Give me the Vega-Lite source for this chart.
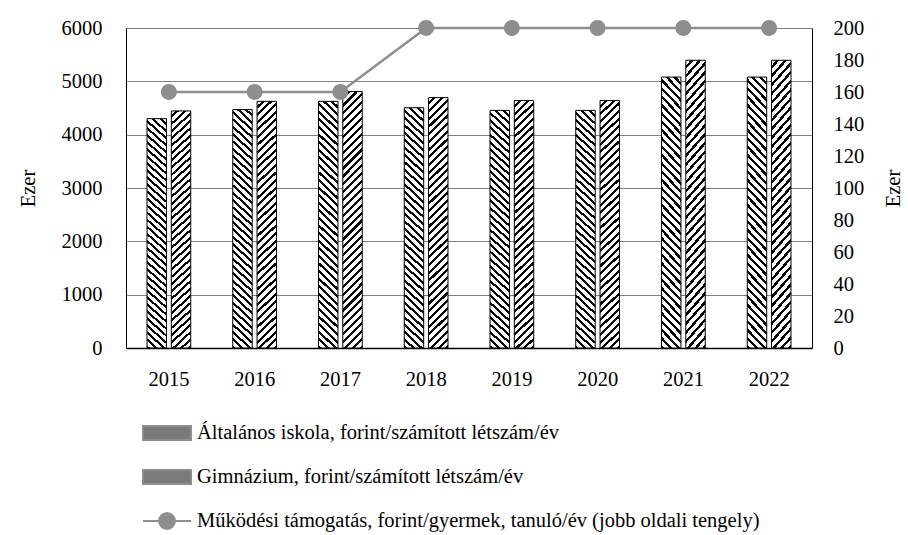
{
  "$schema": "https://vega.github.io/schema/vega-lite/v6.json",
  "width": 686,
  "height": 320,
  "autosize": {"type": "none"},
  "padding": {"left": 126, "top": 28, "right": 96, "bottom": 187},
  "background": "#ffffff",
  "data": {
    "values": [
      {"year": "2015", "series": "Általános iskola, forint/számított létszám/év", "value": 4300},
      {"year": "2016", "series": "Általános iskola, forint/számított létszám/év", "value": 4470},
      {"year": "2017", "series": "Általános iskola, forint/számított létszám/év", "value": 4625},
      {"year": "2018", "series": "Általános iskola, forint/számított létszám/év", "value": 4505},
      {"year": "2019", "series": "Általános iskola, forint/számított létszám/év", "value": 4455},
      {"year": "2020", "series": "Általános iskola, forint/számított létszám/év", "value": 4455},
      {"year": "2021", "series": "Általános iskola, forint/számított létszám/év", "value": 5080},
      {"year": "2022", "series": "Általános iskola, forint/számított létszám/év", "value": 5080},
      {"year": "2015", "series": "Gimnázium, forint/számított létszám/év", "value": 4445},
      {"year": "2016", "series": "Gimnázium, forint/számított létszám/év", "value": 4625},
      {"year": "2017", "series": "Gimnázium, forint/számított létszám/év", "value": 4810},
      {"year": "2018", "series": "Gimnázium, forint/számított létszám/év", "value": 4695},
      {"year": "2019", "series": "Gimnázium, forint/számított létszám/év", "value": 4640},
      {"year": "2020", "series": "Gimnázium, forint/számított létszám/év", "value": 4640},
      {"year": "2021", "series": "Gimnázium, forint/számított létszám/év", "value": 5395},
      {"year": "2022", "series": "Gimnázium, forint/számított létszám/év", "value": 5395},
      {"year": "2015", "series": "Működési támogatás, forint/gyermek, tanuló/év (jobb oldali tengely)", "value": 160},
      {"year": "2016", "series": "Működési támogatás, forint/gyermek, tanuló/év (jobb oldali tengely)", "value": 160},
      {"year": "2017", "series": "Működési támogatás, forint/gyermek, tanuló/év (jobb oldali tengely)", "value": 160},
      {"year": "2018", "series": "Működési támogatás, forint/gyermek, tanuló/év (jobb oldali tengely)", "value": 200},
      {"year": "2019", "series": "Működési támogatás, forint/gyermek, tanuló/év (jobb oldali tengely)", "value": 200},
      {"year": "2020", "series": "Működési támogatás, forint/gyermek, tanuló/év (jobb oldali tengely)", "value": 200},
      {"year": "2021", "series": "Működési támogatás, forint/gyermek, tanuló/év (jobb oldali tengely)", "value": 200},
      {"year": "2022", "series": "Működési támogatás, forint/gyermek, tanuló/év (jobb oldali tengely)", "value": 200}
    ]
  },
  "layer": [
    {
      "transform": [{"filter": {"field": "series", "oneOf": ["Általános iskola, forint/számított létszám/év", "Gimnázium, forint/számított létszám/év"]}}],
      "mark": {"type": "bar", "stroke": "#000", "strokeWidth": 1},
      "encoding": {
        "x": {
          "field": "year", "type": "ordinal",
          "scale": {"paddingInner": 0.49, "paddingOuter": 0.245},
          "axis": {"title": null, "labelAngle": 0, "labelPadding": 21, "ticks": false, "domainWidth": 1.5, "domainColor": "#000", "grid": false, "labelFont": "Liberation Serif", "labelFontSize": 20.5, "labelColor": "#000"}
        },
        "xOffset": {
          "field": "series",
          "scale": {"domain": ["Általános iskola, forint/számított létszám/év", "Gimnázium, forint/számított létszám/év"], "paddingInner": 0.2, "paddingOuter": 0}
        },
        "y": {
          "field": "value", "type": "quantitative",
          "scale": {"domain": [0, 6000], "nice": false},
          "axis": {"title": "Ezer", "format": "d", "values": [0, 1000, 2000, 3000, 4000, 5000, 6000], "grid": true, "gridColor": "#808080", "gridWidth": 1, "ticks": false, "labelPadding": 24, "titlePadding": 23, "domainColor": "#000", "domainWidth": 1, "labelFont": "Liberation Serif", "labelFontSize": 20.5, "labelColor": "#000", "titleFont": "Liberation Serif", "titleFontSize": 20.5, "titleFontWeight": "normal", "titleColor": "#000"}
        },
        "fill": {
          "condition": {
            "test": {"field": "series", "equal": "Általános iskola, forint/számított létszám/év"},
            "value": {"gradient": "linear", "x1": 1, "y1": 0, "x2": 0.9187, "y2": 1.0698, "stops": [
{"offset":0,"color":"#fff"},{"offset":0.01714,"color":"#fff"},{"offset":0.01714,"color":"#000"},{"offset":0.02857,"color":"#000"},
{"offset":0.02857,"color":"#fff"},{"offset":0.04571,"color":"#fff"},{"offset":0.04571,"color":"#000"},{"offset":0.05714,"color":"#000"},
{"offset":0.05714,"color":"#fff"},{"offset":0.07429,"color":"#fff"},{"offset":0.07429,"color":"#000"},{"offset":0.08571,"color":"#000"},
{"offset":0.08571,"color":"#fff"},{"offset":0.10286,"color":"#fff"},{"offset":0.10286,"color":"#000"},{"offset":0.11429,"color":"#000"},
{"offset":0.11429,"color":"#fff"},{"offset":0.13143,"color":"#fff"},{"offset":0.13143,"color":"#000"},{"offset":0.14286,"color":"#000"},
{"offset":0.14286,"color":"#fff"},{"offset":0.16,"color":"#fff"},{"offset":0.16,"color":"#000"},{"offset":0.17143,"color":"#000"},
{"offset":0.17143,"color":"#fff"},{"offset":0.18857,"color":"#fff"},{"offset":0.18857,"color":"#000"},{"offset":0.2,"color":"#000"},
{"offset":0.2,"color":"#fff"},{"offset":0.21714,"color":"#fff"},{"offset":0.21714,"color":"#000"},{"offset":0.22857,"color":"#000"},
{"offset":0.22857,"color":"#fff"},{"offset":0.24571,"color":"#fff"},{"offset":0.24571,"color":"#000"},{"offset":0.25714,"color":"#000"},
{"offset":0.25714,"color":"#fff"},{"offset":0.27429,"color":"#fff"},{"offset":0.27429,"color":"#000"},{"offset":0.28571,"color":"#000"},
{"offset":0.28571,"color":"#fff"},{"offset":0.30286,"color":"#fff"},{"offset":0.30286,"color":"#000"},{"offset":0.31429,"color":"#000"},
{"offset":0.31429,"color":"#fff"},{"offset":0.33143,"color":"#fff"},{"offset":0.33143,"color":"#000"},{"offset":0.34286,"color":"#000"},
{"offset":0.34286,"color":"#fff"},{"offset":0.36,"color":"#fff"},{"offset":0.36,"color":"#000"},{"offset":0.37143,"color":"#000"},
{"offset":0.37143,"color":"#fff"},{"offset":0.38857,"color":"#fff"},{"offset":0.38857,"color":"#000"},{"offset":0.4,"color":"#000"},
{"offset":0.4,"color":"#fff"},{"offset":0.41714,"color":"#fff"},{"offset":0.41714,"color":"#000"},{"offset":0.42857,"color":"#000"},
{"offset":0.42857,"color":"#fff"},{"offset":0.44571,"color":"#fff"},{"offset":0.44571,"color":"#000"},{"offset":0.45714,"color":"#000"},
{"offset":0.45714,"color":"#fff"},{"offset":0.47429,"color":"#fff"},{"offset":0.47429,"color":"#000"},{"offset":0.48571,"color":"#000"},
{"offset":0.48571,"color":"#fff"},{"offset":0.50286,"color":"#fff"},{"offset":0.50286,"color":"#000"},{"offset":0.51429,"color":"#000"},
{"offset":0.51429,"color":"#fff"},{"offset":0.53143,"color":"#fff"},{"offset":0.53143,"color":"#000"},{"offset":0.54286,"color":"#000"},
{"offset":0.54286,"color":"#fff"},{"offset":0.56,"color":"#fff"},{"offset":0.56,"color":"#000"},{"offset":0.57143,"color":"#000"},
{"offset":0.57143,"color":"#fff"},{"offset":0.58857,"color":"#fff"},{"offset":0.58857,"color":"#000"},{"offset":0.6,"color":"#000"},
{"offset":0.6,"color":"#fff"},{"offset":0.61714,"color":"#fff"},{"offset":0.61714,"color":"#000"},{"offset":0.62857,"color":"#000"},
{"offset":0.62857,"color":"#fff"},{"offset":0.64571,"color":"#fff"},{"offset":0.64571,"color":"#000"},{"offset":0.65714,"color":"#000"},
{"offset":0.65714,"color":"#fff"},{"offset":0.67429,"color":"#fff"},{"offset":0.67429,"color":"#000"},{"offset":0.68571,"color":"#000"},
{"offset":0.68571,"color":"#fff"},{"offset":0.70286,"color":"#fff"},{"offset":0.70286,"color":"#000"},{"offset":0.71429,"color":"#000"},
{"offset":0.71429,"color":"#fff"},{"offset":0.73143,"color":"#fff"},{"offset":0.73143,"color":"#000"},{"offset":0.74286,"color":"#000"},
{"offset":0.74286,"color":"#fff"},{"offset":0.76,"color":"#fff"},{"offset":0.76,"color":"#000"},{"offset":0.77143,"color":"#000"},
{"offset":0.77143,"color":"#fff"},{"offset":0.78857,"color":"#fff"},{"offset":0.78857,"color":"#000"},{"offset":0.8,"color":"#000"},
{"offset":0.8,"color":"#fff"},{"offset":0.81714,"color":"#fff"},{"offset":0.81714,"color":"#000"},{"offset":0.82857,"color":"#000"},
{"offset":0.82857,"color":"#fff"},{"offset":0.84571,"color":"#fff"},{"offset":0.84571,"color":"#000"},{"offset":0.85714,"color":"#000"},
{"offset":0.85714,"color":"#fff"},{"offset":0.87429,"color":"#fff"},{"offset":0.87429,"color":"#000"},{"offset":0.88571,"color":"#000"},
{"offset":0.88571,"color":"#fff"},{"offset":0.90286,"color":"#fff"},{"offset":0.90286,"color":"#000"},{"offset":0.91429,"color":"#000"},
{"offset":0.91429,"color":"#fff"},{"offset":0.93143,"color":"#fff"},{"offset":0.93143,"color":"#000"},{"offset":0.94286,"color":"#000"},
{"offset":0.94286,"color":"#fff"},{"offset":0.96,"color":"#fff"},{"offset":0.96,"color":"#000"},{"offset":0.97143,"color":"#000"},
{"offset":0.97143,"color":"#fff"},{"offset":0.98857,"color":"#fff"},{"offset":0.98857,"color":"#000"},{"offset":1,"color":"#000"}
            ]}
          },
          "value": {"gradient": "linear", "x1": 0, "y1": 0, "x2": 0.0813, "y2": 1.0698, "stops": [
{"offset":0,"color":"#fff"},{"offset":0.01714,"color":"#fff"},{"offset":0.01714,"color":"#000"},{"offset":0.02857,"color":"#000"},
{"offset":0.02857,"color":"#fff"},{"offset":0.04571,"color":"#fff"},{"offset":0.04571,"color":"#000"},{"offset":0.05714,"color":"#000"},
{"offset":0.05714,"color":"#fff"},{"offset":0.07429,"color":"#fff"},{"offset":0.07429,"color":"#000"},{"offset":0.08571,"color":"#000"},
{"offset":0.08571,"color":"#fff"},{"offset":0.10286,"color":"#fff"},{"offset":0.10286,"color":"#000"},{"offset":0.11429,"color":"#000"},
{"offset":0.11429,"color":"#fff"},{"offset":0.13143,"color":"#fff"},{"offset":0.13143,"color":"#000"},{"offset":0.14286,"color":"#000"},
{"offset":0.14286,"color":"#fff"},{"offset":0.16,"color":"#fff"},{"offset":0.16,"color":"#000"},{"offset":0.17143,"color":"#000"},
{"offset":0.17143,"color":"#fff"},{"offset":0.18857,"color":"#fff"},{"offset":0.18857,"color":"#000"},{"offset":0.2,"color":"#000"},
{"offset":0.2,"color":"#fff"},{"offset":0.21714,"color":"#fff"},{"offset":0.21714,"color":"#000"},{"offset":0.22857,"color":"#000"},
{"offset":0.22857,"color":"#fff"},{"offset":0.24571,"color":"#fff"},{"offset":0.24571,"color":"#000"},{"offset":0.25714,"color":"#000"},
{"offset":0.25714,"color":"#fff"},{"offset":0.27429,"color":"#fff"},{"offset":0.27429,"color":"#000"},{"offset":0.28571,"color":"#000"},
{"offset":0.28571,"color":"#fff"},{"offset":0.30286,"color":"#fff"},{"offset":0.30286,"color":"#000"},{"offset":0.31429,"color":"#000"},
{"offset":0.31429,"color":"#fff"},{"offset":0.33143,"color":"#fff"},{"offset":0.33143,"color":"#000"},{"offset":0.34286,"color":"#000"},
{"offset":0.34286,"color":"#fff"},{"offset":0.36,"color":"#fff"},{"offset":0.36,"color":"#000"},{"offset":0.37143,"color":"#000"},
{"offset":0.37143,"color":"#fff"},{"offset":0.38857,"color":"#fff"},{"offset":0.38857,"color":"#000"},{"offset":0.4,"color":"#000"},
{"offset":0.4,"color":"#fff"},{"offset":0.41714,"color":"#fff"},{"offset":0.41714,"color":"#000"},{"offset":0.42857,"color":"#000"},
{"offset":0.42857,"color":"#fff"},{"offset":0.44571,"color":"#fff"},{"offset":0.44571,"color":"#000"},{"offset":0.45714,"color":"#000"},
{"offset":0.45714,"color":"#fff"},{"offset":0.47429,"color":"#fff"},{"offset":0.47429,"color":"#000"},{"offset":0.48571,"color":"#000"},
{"offset":0.48571,"color":"#fff"},{"offset":0.50286,"color":"#fff"},{"offset":0.50286,"color":"#000"},{"offset":0.51429,"color":"#000"},
{"offset":0.51429,"color":"#fff"},{"offset":0.53143,"color":"#fff"},{"offset":0.53143,"color":"#000"},{"offset":0.54286,"color":"#000"},
{"offset":0.54286,"color":"#fff"},{"offset":0.56,"color":"#fff"},{"offset":0.56,"color":"#000"},{"offset":0.57143,"color":"#000"},
{"offset":0.57143,"color":"#fff"},{"offset":0.58857,"color":"#fff"},{"offset":0.58857,"color":"#000"},{"offset":0.6,"color":"#000"},
{"offset":0.6,"color":"#fff"},{"offset":0.61714,"color":"#fff"},{"offset":0.61714,"color":"#000"},{"offset":0.62857,"color":"#000"},
{"offset":0.62857,"color":"#fff"},{"offset":0.64571,"color":"#fff"},{"offset":0.64571,"color":"#000"},{"offset":0.65714,"color":"#000"},
{"offset":0.65714,"color":"#fff"},{"offset":0.67429,"color":"#fff"},{"offset":0.67429,"color":"#000"},{"offset":0.68571,"color":"#000"},
{"offset":0.68571,"color":"#fff"},{"offset":0.70286,"color":"#fff"},{"offset":0.70286,"color":"#000"},{"offset":0.71429,"color":"#000"},
{"offset":0.71429,"color":"#fff"},{"offset":0.73143,"color":"#fff"},{"offset":0.73143,"color":"#000"},{"offset":0.74286,"color":"#000"},
{"offset":0.74286,"color":"#fff"},{"offset":0.76,"color":"#fff"},{"offset":0.76,"color":"#000"},{"offset":0.77143,"color":"#000"},
{"offset":0.77143,"color":"#fff"},{"offset":0.78857,"color":"#fff"},{"offset":0.78857,"color":"#000"},{"offset":0.8,"color":"#000"},
{"offset":0.8,"color":"#fff"},{"offset":0.81714,"color":"#fff"},{"offset":0.81714,"color":"#000"},{"offset":0.82857,"color":"#000"},
{"offset":0.82857,"color":"#fff"},{"offset":0.84571,"color":"#fff"},{"offset":0.84571,"color":"#000"},{"offset":0.85714,"color":"#000"},
{"offset":0.85714,"color":"#fff"},{"offset":0.87429,"color":"#fff"},{"offset":0.87429,"color":"#000"},{"offset":0.88571,"color":"#000"},
{"offset":0.88571,"color":"#fff"},{"offset":0.90286,"color":"#fff"},{"offset":0.90286,"color":"#000"},{"offset":0.91429,"color":"#000"},
{"offset":0.91429,"color":"#fff"},{"offset":0.93143,"color":"#fff"},{"offset":0.93143,"color":"#000"},{"offset":0.94286,"color":"#000"},
{"offset":0.94286,"color":"#fff"},{"offset":0.96,"color":"#fff"},{"offset":0.96,"color":"#000"},{"offset":0.97143,"color":"#000"},
{"offset":0.97143,"color":"#fff"},{"offset":0.98857,"color":"#fff"},{"offset":0.98857,"color":"#000"},{"offset":1,"color":"#000"}
          ]}
        }
      }
    },
    {
      "transform": [{"filter": {"field": "series", "equal": "Működési támogatás, forint/gyermek, tanuló/év (jobb oldali tengely)"}}],
      "encoding": {
        "x": {"field": "year", "type": "ordinal"},
        "y": {
          "field": "value", "type": "quantitative",
          "scale": {"domain": [0, 200], "nice": false},
          "axis": {"orient": "right", "title": "Ezer", "format": "d", "titleAngle": 270, "values": [0, 20, 40, 60, 80, 100, 120, 140, 160, 180, 200], "grid": false, "ticks": false, "labelPadding": 21, "titlePadding": 40, "domainColor": "#000", "domainWidth": 1, "labelFont": "Liberation Serif", "labelFontSize": 20.5, "labelColor": "#000", "titleFont": "Liberation Serif", "titleFontSize": 20.5, "titleFontWeight": "normal", "titleColor": "#000"}
        }
      },
      "layer": [
        {"mark": {"type": "line", "color": "#8e8e8e", "strokeWidth": 2.5}},
        {
          "mark": {"type": "point", "filled": true, "opacity": 1, "size": 2304},
          "encoding": {
            "color": {
              "field": "series", "type": "nominal",
              "scale": {
                "domain": ["Általános iskola, forint/számított létszám/év", "Gimnázium, forint/számított létszám/év", "Működési támogatás, forint/gyermek, tanuló/év (jobb oldali tengely)"],
                "range": ["#7a7a7a", "#7a7a7a", "#8e8e8e"]
              },
              "legend": {
                "title": null, "orient": "none", "legendX": 16, "legendY": 380, "direction": "vertical",
                "padding": 0, "rowPadding": 8, "labelOffset": 5, "labelLimit": 0, "symbolSize": 2304,
                "symbolStrokeColor": "#8e8e8e", "symbolStrokeWidth": 2
              }
            },
            "shape": {
              "field": "series", "type": "nominal",
              "scale": {
                "domain": ["Általános iskola, forint/számított létszám/év", "Gimnázium, forint/számított létszám/év", "Működési támogatás, forint/gyermek, tanuló/év (jobb oldali tengely)"],
                "range": ["M-1,-0.29H1V0.29H-1Z", "M-1,-0.29H1V0.29H-1Z", "M-1,0H1M0.33,0A0.33,0.33 0 1,1 -0.33,0A0.33,0.33 0 1,1 0.33,0Z"]
              },
              "legend": {
                "title": null, "orient": "none", "legendX": 16, "legendY": 380, "direction": "vertical",
                "padding": 0, "rowPadding": 8, "labelOffset": 5, "labelLimit": 0, "symbolSize": 2304,
                "symbolStrokeColor": "#8e8e8e", "symbolStrokeWidth": 2
              }
            }
          }
        }
      ]
    }
  ],
  "resolve": {"scale": {"y": "independent"}},
  "config": {
    "font": "Liberation Serif",
    "view": {"stroke": null},
    "axis": {
      "labelFont": "Liberation Serif", "labelFontSize": 20.5, "labelColor": "#000000",
      "titleFont": "Liberation Serif", "titleFontSize": 20.5, "titleFontWeight": "normal", "titleColor": "#000000"
    },
    "legend": {"labelFont": "Liberation Serif", "labelFontSize": 20.5, "labelColor": "#000000"}
  }
}
